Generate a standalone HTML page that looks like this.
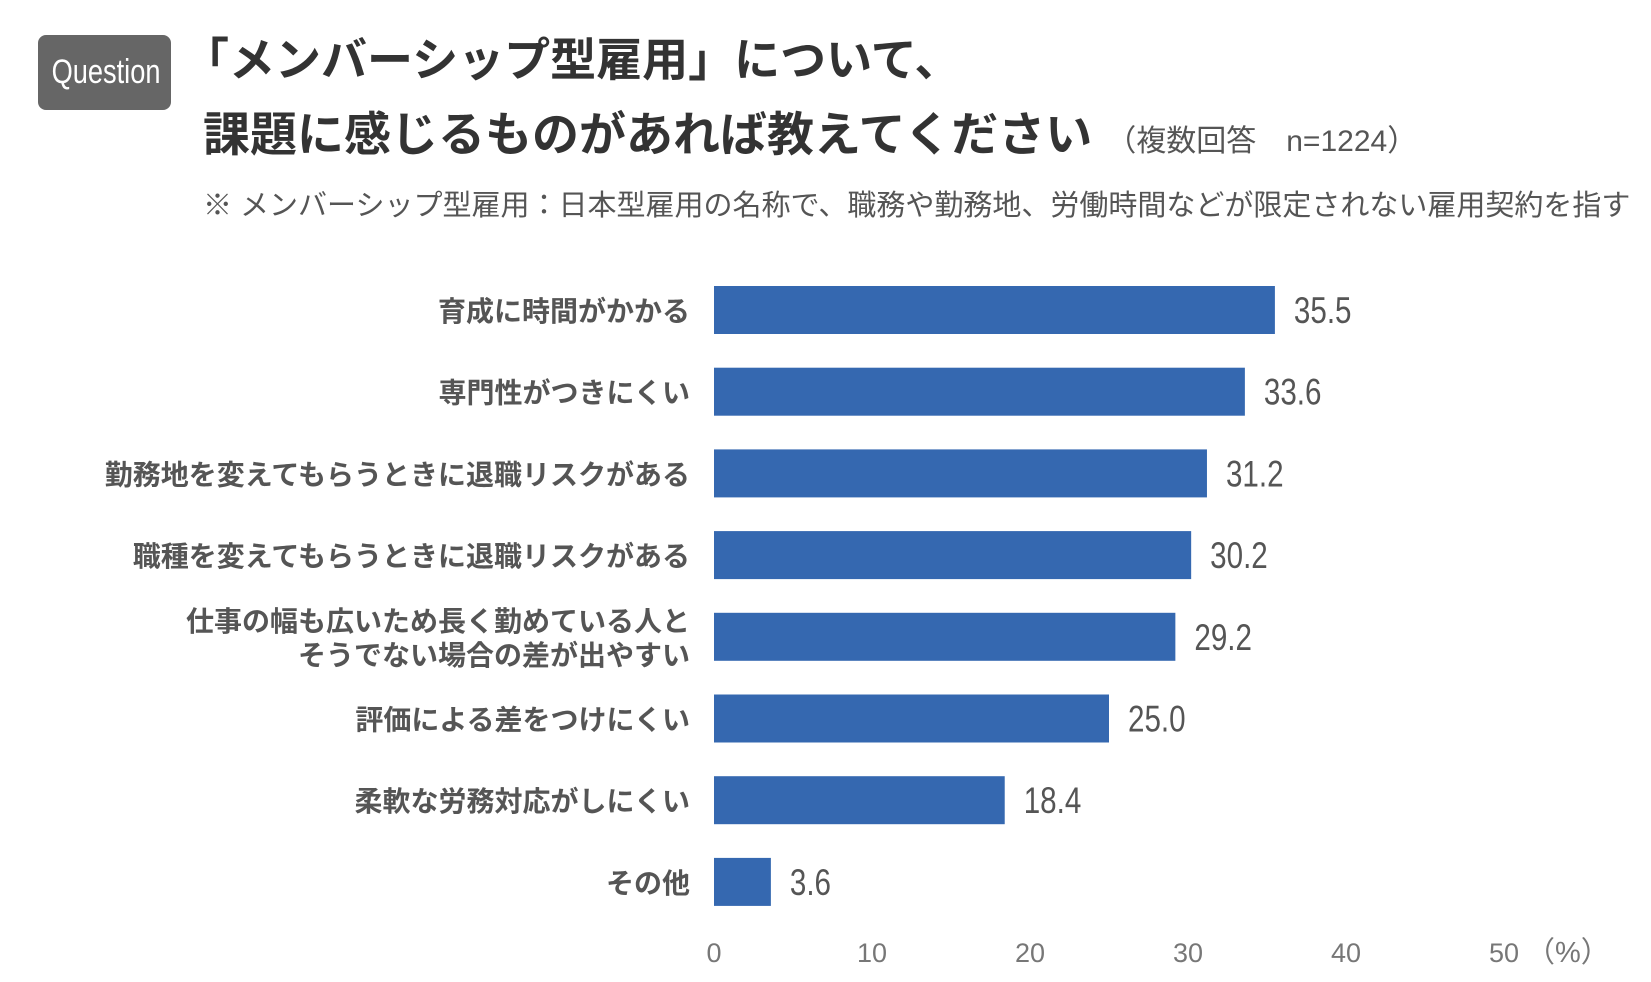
<!DOCTYPE html>
<html><head><meta charset="utf-8"><style>
body{margin:0;width:1651px;height:982px;background:#fff;overflow:hidden;font-family:"Liberation Sans","Noto Sans CJK JP",sans-serif;position:relative}
.abs{position:absolute;white-space:nowrap}
</style></head><body>
<div class="abs" style="left:38px;top:35px;width:133px;height:75px;background:#666;border-radius:8px;color:#fff;font-size:34px;line-height:75px;text-align:center"><span style="display:inline-block;transform:scaleX(0.8)">Question</span></div>
<div class="abs" style="left:183px;top:24px;font-size:46px;font-weight:bold;color:#333">「メンバーシップ型雇用」について、</div>
<div class="abs" style="left:203px;top:96px;font-size:47px;font-weight:bold;color:#333">課題に感じるものがあれば教えてください<span style="font-size:30px;font-weight:normal;color:#555;margin-left:14px">（複数回答　n=1224）</span></div>
<div class="abs" style="left:203px;top:182px;font-size:29px;color:#555">※ メンバーシップ型雇用：日本型雇用の名称で、職務や勤務地、労働時間などが限定されない雇用契約を指す</div>
<svg id="chart" width="1651" height="982" style="position:absolute;left:0;top:0"></svg>
<script>
const categories=["育成に時間がかかる","専門性がつきにくい","勤務地を変えてもらうときに退職リスクがある","職種を変えてもらうときに退職リスクがある","仕事の幅も広いため長く勤めている人と|そうでない場合の差が出やすい","評価による差をつけにくい","柔軟な労務対応がしにくい","その他"];
const values=[35.5,33.6,31.2,30.2,29.2,25.0,18.4,3.6];
const ticks=[0,10,20,30,40,50];
const svg=document.getElementById('chart');
const NS='http://www.w3.org/2000/svg';
const x0=714,x50=1504;
const xs=v=>x0+(x50-x0)*v/50;
const ys=i=>286+i*81.7;
const bh=48;
function mk(t,a,txt){const e=document.createElementNS(NS,t);for(const k in a)e.setAttribute(k,a[k]);if(txt!=null)e.textContent=txt;svg.appendChild(e);return e;}
values.forEach((v,i)=>{
 const r=mk('rect',{x:x0,y:ys(i),width:xs(v)-x0,height:bh,fill:'#3568b0'});
 
 
 const t=mk('text',{x:xs(v)+19,y:ys(i)+bh/2+13,'font-size':37,fill:'#555',transform:`translate(${xs(v)+19},0) scale(0.8,1) translate(${-(xs(v)+19)},0)`},v.toFixed(1));
 
 
 const lines=categories[i].split('|');
 lines.forEach((ln,j)=>{
  const cy=ys(i)+bh/2+11+(j-(lines.length-1)/2)*34;
  const c=mk('text',{x:690,y:cy,'text-anchor':'end','font-size':28,'font-weight':'bold',fill:'#555'},ln);
  
  
 });
});
ticks.forEach(t=>{
 const e=mk('text',{x:xs(t),y:962,'text-anchor':'middle','font-size':27,fill:'#777'},t);
 
 
});
const u=mk('text',{x:xs(50)+22,y:962,'font-size':29,fill:'#777'},'（%）');


</script>
</body></html>
